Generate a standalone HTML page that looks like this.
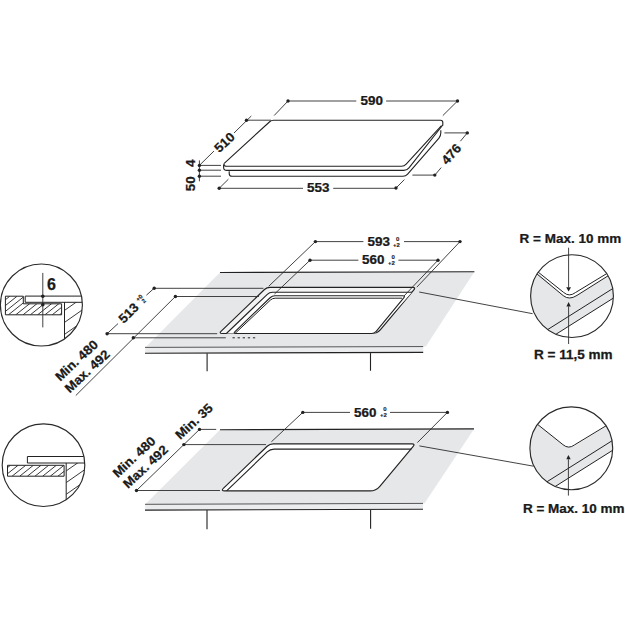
<!DOCTYPE html>
<html><head><meta charset="utf-8"><style>
html,body{margin:0;padding:0;background:#fff;width:625px;height:625px;overflow:hidden}
svg{display:block}
</style></head><body>
<svg width="625" height="625" viewBox="0 0 625 625" font-family="Liberation Sans, sans-serif" font-weight="bold" fill="none">
<g stroke="#222" stroke-width="1.1">
<path d="M224.20,163.30 L269.68,121.78 Q271.30,120.30 273.50,120.30 L440.60,120.30 Q442.80,120.30 442.80,122.50 L442.80,125.50"/>
<path d="M441.50,125.60 L406.19,164.23 Q404.30,166.30 401.50,166.30 L226.40,166.30 Q223.60,166.30 224.15,163.55 L224.20,163.30"/>
<path d="M442.80,125.00 L408.98,167.89 Q407.00,170.40 403.80,170.40 L226.80,170.40 Q223.60,170.40 223.60,167.20 L223.60,164.60"/>
<path d="M440.80,130.20 L440.80,133.10 Q440.80,135.90 438.97,138.02 L407.63,174.18 Q405.80,176.30 403.00,176.30 L232.00,176.30 Q229.20,176.30 229.20,173.50 L229.20,171.30"/>
</g>
<g stroke="#2e2e2e" stroke-width="0.9">
<path d="M288,101 H356.3 M386.1,101 H457.5 M288,101 L274.2,115.5 M457.5,101 L442.8,115.6"/>
<path d="M246.5,120.2 H271 M251.3,116 L234,133 M214,151 L199.4,165.4"/>
<path d="M199.4,160.4 V181.3 M199.4,165.4 H221 M199.4,170.2 H221 M199.4,176.2 H221"/>
<path d="M219.2,188.3 H303 M333.2,188.3 H396 M219.2,188.3 L228.4,179.2 M396,188 L404.4,179.6"/>
<path d="M444.4,132.9 H467.3 L460.4,141.2 M441.2,167.6 L434.8,175.1 H412.4"/>
</g>
<circle cx="288" cy="101" r="1.7" fill="#222"/>
<circle cx="457.5" cy="101" r="1.7" fill="#222"/>
<circle cx="246.5" cy="120.2" r="1.7" fill="#222"/>
<circle cx="199.4" cy="165.4" r="1.7" fill="#222"/>
<circle cx="199.4" cy="170.2" r="1.7" fill="#222"/>
<circle cx="199.4" cy="176.2" r="1.7" fill="#222"/>
<circle cx="219.2" cy="188.3" r="1.7" fill="#222"/>
<circle cx="396" cy="188" r="1.7" fill="#222"/>
<circle cx="467.3" cy="132.9" r="1.7" fill="#222"/>
<circle cx="434.8" cy="175.1" r="1.7" fill="#222"/>
<text transform="translate(371.8,105.4) scale(1.12,1)" y="0" font-size="12" text-anchor="middle" fill="#1a1a1a" stroke="#1a1a1a" stroke-width="0.25">590</text>
<text transform="translate(318.3,192.3) scale(1.12,1)" y="0" font-size="12" text-anchor="middle" fill="#1a1a1a" stroke="#1a1a1a" stroke-width="0.25">553</text>
<text transform="translate(224.3,142.3) rotate(-43) scale(1.05,1)" y="4.6" font-size="12.8" text-anchor="middle" fill="#1a1a1a" stroke="#1a1a1a" stroke-width="0.25">510</text>
<text transform="translate(451,154) rotate(-48) scale(1.05,1)" y="4.6" font-size="12.8" text-anchor="middle" fill="#1a1a1a" stroke="#1a1a1a" stroke-width="0.25">476</text>
<text transform="translate(195,163.3) rotate(-90) scale(1.12,1)" y="0" font-size="12" text-anchor="middle" fill="#1a1a1a" stroke="#1a1a1a" stroke-width="0.25">4</text>
<text transform="translate(195,183.8) rotate(-90) scale(1.12,1)" y="0" font-size="12" text-anchor="middle" fill="#1a1a1a" stroke="#1a1a1a" stroke-width="0.25">50</text>
<path d="M220,272.44 L474.4,271.7 L425.8,346.55 L145.3,347.4 Z" fill="#e6e7e9"/>
<path d="M145.3,347.4 L423.2,346.55 L423.2,352.35 L145.3,353.2 Z" fill="#ebecee"/>
<path d="M145,347.4 L423.2,346.55" stroke="#555" stroke-width="1"/>
<path d="M264.49,289.52 Q266.80,287.30 270.00,287.30 L412.70,287.30 Q415.90,287.30 413.85,289.76 L380.51,329.66 Q377.30,333.50 372.30,333.50 L222.20,333.50 Q218.70,333.50 221.22,331.08 Z" fill="#f3f3f4" stroke="#222" stroke-width="1.15"/>
<path d="M226.50,333.50 Q226.40,333.50 226.47,333.43 L267.33,294.28 Q269.50,292.20 272.50,292.20 L411.90,292.20 Q412.00,292.20 411.93,292.27 L375.07,333.43 Q375.00,333.50 374.90,333.50 Z" fill="#fff"/>
<path d="M226.40,333.50 L267.33,294.28 Q269.50,292.20 272.50,292.20 L412.00,292.20" stroke="#222" stroke-width="1.1"/>
<path d="M270.08,297.74 Q272.10,295.80 274.90,295.80 L402.70,295.80 Q405.50,295.80 403.72,297.96 L376.18,331.34 Q374.40,333.50 371.60,333.50 L235.80,333.50 Q233.00,333.50 235.02,331.56 Z" fill="#fff" stroke="#222" stroke-width="1.1"/>
<path d="M235.00,333.50 L270.36,300.12 Q272.40,298.20 275.20,298.20 L402.00,298.20" stroke="#222" stroke-width="1"/>
<path d="M220,272.44 L474.4,271.7 M145,353.2 L423.2,352.35 M207.1,353 V371.2 M370.5,352.5 V370.8" stroke="#222" stroke-width="1.1"/>
<g stroke="#2e2e2e" stroke-width="0.9">
<path d="M315.4,241.6 H363.4 M404,241.6 H460 M315.4,241.6 L268.7,286.3 M460,241.6 L416.8,287.2"/>
<path d="M310,260.2 H358.4 M398.4,260.2 H438 M310,260.2 L274.5,294 M438,260.2 L404,296"/>
<path d="M154.2,288.3 H263.4 M107.1,333.7 H217.2 M154.2,288.2 L146.4,295.2 M118,323.6 L107.1,333.7"/>
<path d="M175.4,296.5 H259 M133.3,337.8 H225.8 M175.4,296.5 L75.8,395.5"/>
<path d="M232.5,337.8 H257.5" stroke="#222" stroke-width="1" stroke-dasharray="2.3,2.8"/>
<path d="M419.2,292 L532.6,313.7"/>
</g>
<circle cx="315.4" cy="241.6" r="1.7" fill="#222"/>
<circle cx="460" cy="241.6" r="1.7" fill="#222"/>
<circle cx="310" cy="260.2" r="1.7" fill="#222"/>
<circle cx="438" cy="260.2" r="1.7" fill="#222"/>
<circle cx="154.2" cy="288.2" r="1.7" fill="#222"/>
<circle cx="107.1" cy="333.7" r="1.7" fill="#222"/>
<circle cx="175.4" cy="296.5" r="1.7" fill="#222"/>
<circle cx="133.3" cy="337.8" r="1.7" fill="#222"/>
<text transform="translate(378.7,246) scale(1.12,1)" y="0" font-size="12" text-anchor="middle" fill="#1a1a1a" stroke="#1a1a1a" stroke-width="0.25">593</text>
<text transform="translate(373.2,264.2) scale(1.12,1)" y="0" font-size="12" text-anchor="middle" fill="#1a1a1a" stroke="#1a1a1a" stroke-width="0.25">560</text>
<text transform="translate(128.4,312.8) rotate(-45) scale(1.05,1)" y="4.6" font-size="12.8" text-anchor="middle" fill="#1a1a1a" stroke="#1a1a1a" stroke-width="0.25">513</text>
<text transform="translate(140.6,299.4) rotate(-45)" y="0" font-size="6.0" text-anchor="middle" fill="#1a1a1a" stroke="#1a1a1a" stroke-width="0.12">+0</text>
<text transform="translate(145.2,302.4) rotate(-45)" y="0" font-size="6.0" text-anchor="middle" fill="#1a1a1a" stroke="#1a1a1a" stroke-width="0.12">2</text>
<text transform="translate(79.5,363.7) rotate(-43) scale(1.05,1)" y="0" font-size="12.8" text-anchor="middle" fill="#1a1a1a" stroke="#1a1a1a" stroke-width="0.25">Min. 480</text>
<text transform="translate(90.2,374.4) rotate(-43) scale(1.05,1)" y="0" font-size="12.8" text-anchor="middle" fill="#1a1a1a" stroke="#1a1a1a" stroke-width="0.25">Max. 492</text>
<text transform="translate(397.6,240.6)" y="0" font-size="6.0" text-anchor="middle" fill="#1a1a1a" stroke="#1a1a1a" stroke-width="0.12">0</text>
<text transform="translate(396.4,246.8)" y="0" font-size="6.0" text-anchor="middle" fill="#1a1a1a" stroke="#1a1a1a" stroke-width="0.12">+2</text>
<text transform="translate(393.1,259.1)" y="0" font-size="6.0" text-anchor="middle" fill="#1a1a1a" stroke="#1a1a1a" stroke-width="0.12">0</text>
<text transform="translate(391.4,264.9)" y="0" font-size="6.0" text-anchor="middle" fill="#1a1a1a" stroke="#1a1a1a" stroke-width="0.12">+2</text>
<clipPath id="rc296"><circle cx="572" cy="296.1" r="41.4"/></clipPath>
<circle cx="572" cy="296.1" r="41.4" fill="#fff"/>
<g clip-path="url(#rc296)"><g transform="translate(0,0.0)">
<path d="M520,257 L563.2,295.6 Q569.2,300.5 577,295.4 L630,263 L630,287.6 L520,356.9 Z" fill="#e6e7e9"/>
<path d="M520,257.6 L563.6,292.4 Q569.2,297.3 575.4,292.6 L630,259.5" stroke="#222" stroke-width="1"/>
<path d="M520,260 L563.2,295.6 Q569.2,300.5 577,295.4 L630,262" stroke="#222" stroke-width="1"/>
<path d="M520,347 L630,277.7 M520,356.9 L630,287.6" stroke="#222" stroke-width="1"/>
</g></g>
<circle cx="572" cy="296.1" r="41.4" stroke="#2a2a2a" stroke-width="1.15"/>
<path d="M568.6,247.7 V287.4 M568.6,306.4 V344" stroke="#2e2e2e" stroke-width="0.9"/>
<path d="M566.2,287.2 L571,287.2 L568.6,291.4 Z M566.4,306.4 L570.8,306.4 L568.6,302 Z" fill="#222"/>
<clipPath id="lc1"><circle cx="41.4" cy="305" r="41"/></clipPath>
<circle cx="41.4" cy="305" r="41" fill="#fff"/>
<g clip-path="url(#lc1)">
<clipPath id="ct1"><path d="M5.4,296.2 H23.3 V303.8 H61.6 V314.8 H5.4 Z"/></clipPath>
<path clip-path="url(#ct1)" d="M-13.45,314.8 L9.80,296.2 M-6.15,314.8 L17.10,296.2 M1.15,314.8 L24.40,296.2 M8.45,314.8 L31.70,296.2 M15.75,314.8 L39.00,296.2 M23.05,314.8 L46.30,296.2 M30.35,314.8 L53.60,296.2 M37.65,314.8 L60.90,296.2 M44.95,314.8 L68.20,296.2 M52.25,314.8 L75.50,296.2 M59.55,314.8 L82.80,296.2" stroke="#222" stroke-width="0.9"/>
<path d="M5.4,296.2 H23.3 V303.8 H61.6 V314.8 H5.4 Z" stroke="#222" stroke-width="1"/>
<path d="M90,296.1 H25.2 V302.3 H90" stroke="#222" stroke-width="1"/>
<clipPath id="cb1"><path d="M64.5,302.3 H90 V350 H64.5 Z"/></clipPath>
<path clip-path="url(#cb1)" d="M64.5,310.4 L85,296 M64.5,322.4 L90,304.5 M64.5,334.4 L90,316.5 M64.5,346.4 L90,328.5" stroke="#222" stroke-width="0.9"/>
<path d="M64.5,302.3 V350" stroke="#222" stroke-width="1"/>
<path d="M42.8,272.9 V327.4" stroke="#2e2e2e" stroke-width="0.9"/>
</g>
<circle cx="41.4" cy="305" r="41" stroke="#2a2a2a" stroke-width="1.15"/>
<circle cx="42.8" cy="296.2" r="1.8" fill="#222"/>
<circle cx="42.8" cy="304.8" r="1.8" fill="#222"/>
<text transform="translate(51.4,289.6)" y="0" font-size="16" text-anchor="middle" fill="#1a1a1a" stroke="#1a1a1a" stroke-width="0.25">6</text>
<path d="M220,429.7 L474,428.9 L424.4,503.4 L145.3,504.3 Z" fill="#e6e7e9"/>
<path d="M145.3,504.3 L423,503.4 L423,509.2 L145.3,510.1 Z" fill="#ebecee"/>
<path d="M145,504.3 L423,503.4" stroke="#555" stroke-width="1"/>
<path d="M267.18,446.23 Q269.70,443.80 273.20,443.80 L412.05,443.80 Q415.25,443.80 413.20,446.26 L379.84,486.29 Q376.00,490.90 370.00,490.90 L224.70,490.90 Q220.70,490.90 223.58,488.13 Z" fill="#fff" stroke="#222" stroke-width="1.15"/>
<path d="M226.60,490.90 L267.22,451.87 Q270.10,449.10 274.10,449.10 L411.40,449.10" stroke="#222" stroke-width="1.1"/>
<path d="M220,429.7 L474,428.9 M145,510.1 L423,509.2 M207,510 V529.2 M370.6,509.4 V528.8" stroke="#222" stroke-width="1.1"/>
<g stroke="#2e2e2e" stroke-width="0.9">
<path d="M302.8,412.4 H350 M390,412.4 H447.4 M302.8,412.4 L271.4,441.8 M447.4,412.4 L417.4,442.6"/>
<path d="M199.5,429.4 H216.2 M183.9,444.6 H266 M136.5,490.5 H220 M199.5,429.4 L136.5,490.5"/>
<path d="M419.4,445.9 L533.6,466.2"/>
</g>
<circle cx="302.8" cy="412.4" r="1.7" fill="#222"/>
<circle cx="447.4" cy="412.4" r="1.7" fill="#222"/>
<circle cx="199.5" cy="429.4" r="1.7" fill="#222"/>
<circle cx="183.9" cy="444.6" r="1.7" fill="#222"/>
<circle cx="136.5" cy="490.5" r="1.7" fill="#222"/>
<text transform="translate(365.2,416.8) scale(1.12,1)" y="0" font-size="12" text-anchor="middle" fill="#1a1a1a" stroke="#1a1a1a" stroke-width="0.25">560</text>
<text transform="translate(137,460.2) rotate(-43) scale(1.05,1)" y="0" font-size="12.8" text-anchor="middle" fill="#1a1a1a" stroke="#1a1a1a" stroke-width="0.25">Min. 480</text>
<text transform="translate(148.5,469.8) rotate(-43) scale(1.05,1)" y="0" font-size="12.8" text-anchor="middle" fill="#1a1a1a" stroke="#1a1a1a" stroke-width="0.25">Max. 492</text>
<text transform="translate(197,424.6) rotate(-43) scale(1.05,1)" y="0" font-size="12.8" text-anchor="middle" fill="#1a1a1a" stroke="#1a1a1a" stroke-width="0.25">Min. 35</text>
<text transform="translate(385,411.1)" y="0" font-size="6.0" text-anchor="middle" fill="#1a1a1a" stroke="#1a1a1a" stroke-width="0.12">0</text>
<text transform="translate(383.4,417.2)" y="0" font-size="6.0" text-anchor="middle" fill="#1a1a1a" stroke="#1a1a1a" stroke-width="0.12">+2</text>
<clipPath id="rc448"><circle cx="571.3" cy="448.3" r="41.4"/></clipPath>
<circle cx="571.3" cy="448.3" r="41.4" fill="#fff"/>
<g clip-path="url(#rc448)"><g transform="translate(-0.7000000000000455,152.2)">
<path d="M520,257 L563.2,292.4 Q569.2,297.3 577,292.6 L630,260 L630,287.6 L520,356.9 Z" fill="#e6e7e9"/>
<path d="M520,257.6 L563.6,292.4 Q569.2,297.3 575.4,292.6 L630,259.5" stroke="#222" stroke-width="1"/>
<path d="M520,347 L630,277.7 M520,356.9 L630,287.6" stroke="#222" stroke-width="1"/>
</g></g>
<circle cx="571.3" cy="448.3" r="41.4" stroke="#2a2a2a" stroke-width="1.15"/>
<path d="M568.4,459.3 V495.6" stroke="#2e2e2e" stroke-width="0.9"/>
<path d="M566.3,459.3 L570.7,459.3 L568.4,455.1 Z" fill="#222"/>
<clipPath id="lc2"><circle cx="43.5" cy="465.2" r="41.3"/></clipPath>
<circle cx="43.5" cy="465.2" r="41.3" fill="#fff"/>
<g clip-path="url(#lc2)">
<clipPath id="ct2"><path d="M7.5,465.3 H64.1 V476.2 H7.5 Z"/></clipPath>
<path clip-path="url(#ct2)" d="M-3.22,476.2 L10.40,465.3 M4.43,476.2 L18.05,465.3 M12.08,476.2 L25.70,465.3 M19.73,476.2 L33.35,465.3 M27.38,476.2 L41.00,465.3 M35.03,476.2 L48.65,465.3 M42.68,476.2 L56.30,465.3 M50.33,476.2 L63.95,465.3 M57.98,476.2 L71.60,465.3" stroke="#222" stroke-width="0.9"/>
<path d="M7.5,465.3 H64.1 V476.2 H7.5 Z" stroke="#222" stroke-width="1"/>
<path d="M90,456.5 H27.4 V463 H90" stroke="#222" stroke-width="1"/>
<clipPath id="cb2"><path d="M66.2,463 H90 V510 H66.2 Z"/></clipPath>
<path clip-path="url(#cb2)" d="M66.2,470.9 L85,457.8 M66.2,482.6 L90,466 M66.2,494.3 L90,477.7 M66.2,506 L90,489.4" stroke="#222" stroke-width="0.9"/>
<path d="M66.2,463 V510" stroke="#222" stroke-width="1"/>
</g>
<circle cx="43.5" cy="465.2" r="41.3" stroke="#2a2a2a" stroke-width="1.15"/>
<text transform="translate(519.6,243.4) scale(1.125,1)" y="0" font-size="12" text-anchor="start" fill="#1a1a1a" stroke="#1a1a1a" stroke-width="0.25">R = Max. 10 mm</text>
<text transform="translate(534,358.6) scale(1.128,1)" y="0" font-size="12" text-anchor="start" fill="#1a1a1a" stroke="#1a1a1a" stroke-width="0.25">R = 11,5 mm</text>
<text transform="translate(522.9,512.6) scale(1.125,1)" y="0" font-size="12" text-anchor="start" fill="#1a1a1a" stroke="#1a1a1a" stroke-width="0.25">R = Max. 10 mm</text>
</svg>
</body></html>
